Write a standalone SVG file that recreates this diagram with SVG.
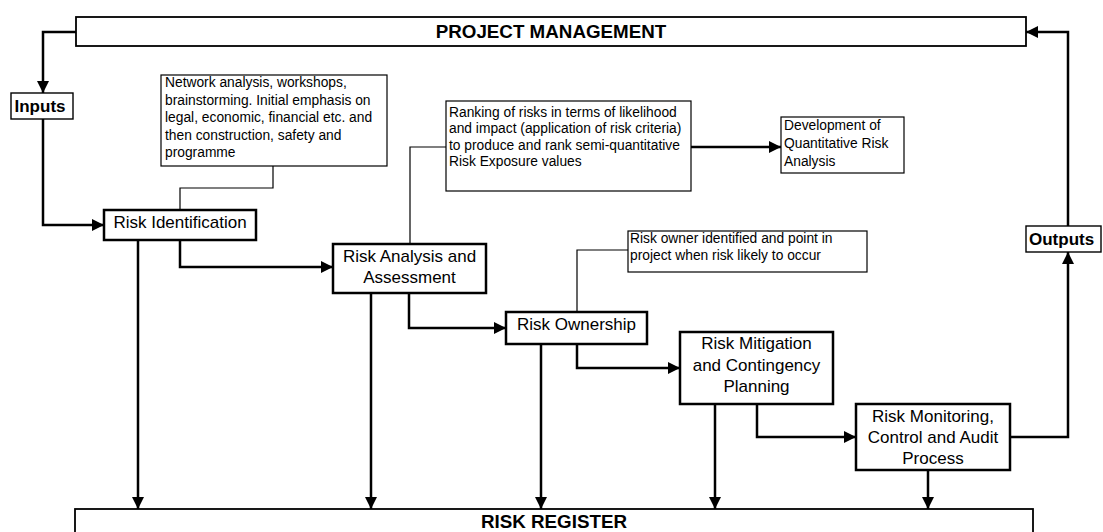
<svg xmlns="http://www.w3.org/2000/svg" width="1103" height="532" viewBox="0 0 1103 532">
  <style>
    .bg { fill: #ffffff; }
    .step { fill: #ffffff; stroke: #000000; stroke-width: 2.5; }
    .band { fill: #ffffff; stroke: #000000; stroke-width: 1.8; }
    .io { fill: #ffffff; stroke: #000000; stroke-width: 1.4; }
    .note { fill: #ffffff; stroke: #000000; stroke-width: 1.2; }
    .flow { fill: none; stroke: #000000; stroke-width: 2.5; marker-end: url(#arrow); }
    .flow-plain { fill: none; stroke: #000000; stroke-width: 2.5; }
    .link { fill: none; stroke: #000000; stroke-width: 1.2; }
    text { font-family: "Liberation Sans", Arial, sans-serif; fill: #000000; }
    .lbl { font-size: 17px; text-anchor: middle; }
    .head { font-size: 18.8px; font-weight: bold; text-anchor: middle; }
    .io-t { font-size: 17px; font-weight: bold; }
    .note-t { font-size: 13.8px; }
  </style>
  <defs>
    <marker id="arrow" viewBox="0 0 12 12" refX="12" refY="6" markerWidth="12" markerHeight="12" markerUnits="userSpaceOnUse" orient="auto">
      <path d="M0,0 L12,6 L0,12 Z" fill="#000000"/>
    </marker>
  </defs>

  <rect class="bg" x="0" y="0" width="1103" height="532"/>

  <!-- connectors -->
  <g id="connectors">
    <!-- main process flow -->
    <path class="flow" d="M76,32 H43 V93"/>
    <path class="flow" d="M43,119 V225 H104"/>
    <path class="flow" d="M180,241 V267 H333"/>
    <path class="flow" d="M409,293 V328 H506"/>
    <path class="flow" d="M577,344 V368 H680"/>
    <path class="flow" d="M757,404 V437 H856"/>
    <path class="flow" d="M1010,437 H1068 V252"/>
    <path class="flow" d="M1068,226 V32 H1026"/>
    <path class="flow" d="M691,147 H781"/>
    <!-- feeds into the register -->
    <path class="flow" d="M138,241 V509"/>
    <path class="flow" d="M371,293 V509"/>
    <path class="flow" d="M541,344 V509"/>
    <path class="flow" d="M715,404 V509"/>
    <path class="flow" d="M928,470 V509"/>
    <!-- note call-outs -->
    <path class="link" d="M273,166 V188 H180 V210"/>
    <path class="link" d="M446,147 H410 V244"/>
    <path class="link" d="M628,250 H577 V312"/>
  </g>

  <g id="project-management">
    <rect class="band" x="76" y="17" width="950" height="29"/>
    <text class="head" x="551" y="38">PROJECT MANAGEMENT</text>
  </g>

  <g id="inputs">
    <rect class="io" x="11" y="93" width="62" height="26"/>
    <text class="io-t" x="14.5" y="112">Inputs</text>
  </g>

  <g id="outputs">
    <rect class="io" x="1026" y="226" width="75" height="26"/>
    <text class="io-t" x="1029" y="245">Outputs</text>
  </g>

  <g id="risk-identification">
    <rect class="step" x="104" y="210" width="152" height="30"/>
    <text class="lbl" x="180" y="228">Risk Identification</text>
  </g>

  <g id="risk-analysis">
    <rect class="step" x="333" y="244" width="153" height="49"/>
    <text class="lbl" x="409.5" y="262">Risk Analysis and</text>
    <text class="lbl" x="409.5" y="283">Assessment</text>
  </g>

  <g id="risk-ownership">
    <rect class="step" x="506" y="312" width="141" height="32"/>
    <text class="lbl" x="576.5" y="330">Risk Ownership</text>
  </g>

  <g id="risk-mitigation">
    <rect class="step" x="680" y="332" width="153" height="72"/>
    <text class="lbl" x="756.5" y="349">Risk Mitigation</text>
    <text class="lbl" x="756.5" y="371">and Contingency</text>
    <text class="lbl" x="756.5" y="392">Planning</text>
  </g>

  <g id="risk-monitoring">
    <rect class="step" x="856" y="404" width="154" height="66"/>
    <text class="lbl" x="933" y="422">Risk Monitoring,</text>
    <text class="lbl" x="933" y="443">Control and Audit</text>
    <text class="lbl" x="933" y="464">Process</text>
  </g>

  <g id="note-identification">
    <rect class="note" x="161" y="75" width="226" height="91"/>
    <text class="note-t" x="165" y="87">Network analysis, workshops,</text>
    <text class="note-t" x="165" y="105">brainstorming. Initial emphasis on</text>
    <text class="note-t" x="165" y="122">legal, economic, financial etc. and</text>
    <text class="note-t" x="165" y="140">then construction, safety and</text>
    <text class="note-t" x="165" y="157">programme</text>
  </g>

  <g id="note-ranking">
    <rect class="note" x="446" y="101" width="245" height="90"/>
    <text class="note-t" x="449" y="117">Ranking of risks in terms of likelihood</text>
    <text class="note-t" x="449" y="133">and impact (application of risk criteria)</text>
    <text class="note-t" x="449" y="150">to produce and rank semi-quantitative</text>
    <text class="note-t" x="449" y="166">Risk Exposure values</text>
  </g>

  <g id="quantitative-analysis">
    <rect class="note" x="781" y="117" width="123" height="56"/>
    <text class="note-t" x="784" y="130">Development of</text>
    <text class="note-t" x="784" y="148">Quantitative Risk</text>
    <text class="note-t" x="784" y="166">Analysis</text>
  </g>

  <g id="note-ownership">
    <rect class="note" x="628" y="231" width="239" height="41"/>
    <text class="note-t" x="630" y="243">Risk owner identified and point in</text>
    <text class="note-t" x="630" y="260">project when risk likely to occur</text>
  </g>

  <g id="risk-register">
    <rect class="band" x="75" y="509" width="958" height="40"/>
    <text class="head" x="554" y="528">RISK REGISTER</text>
  </g>
</svg>
